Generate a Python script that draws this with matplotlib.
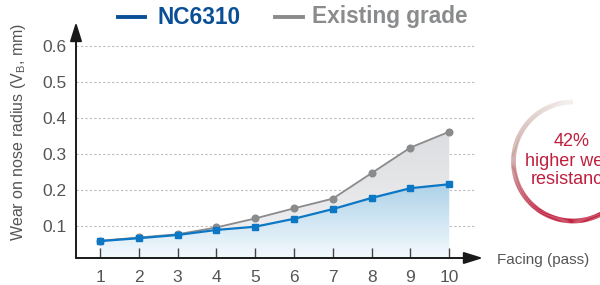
#!/usr/bin/env python3
# -*- coding: utf-8 -*-
"""Wear on nose radius vs. facing passes: NC6310 against the existing grade."""

import numpy as np
import matplotlib
matplotlib.use("Agg")
import matplotlib.pyplot as plt
from matplotlib.patches import Polygon
from matplotlib.collections import LineCollection
from matplotlib.colors import LinearSegmentedColormap, to_rgb
from matplotlib.lines import Line2D

# ---- data ----
passes = [1, 2, 3, 4, 5, 6, 7, 8, 9, 10]
nc6310 = [0.058, 0.066, 0.075, 0.089, 0.098, 0.120, 0.147, 0.178, 0.205, 0.216]
existing = [0.059, 0.068, 0.077, 0.096, 0.121, 0.149, 0.176, 0.247, 0.318, 0.362]
y_ticks = [0.1, 0.2, 0.3, 0.4, 0.5, 0.6]
series_names = ["NC6310", "Existing grade"]
badge_lines = ["42%", "higher wear", "resistance"]

BLUE = "#0B77C5"
BLUE_DARK = "#0A4F96"
GREY = "#8A8B8D"
CRIMSON = "#BF1F3D"
TXT = "#555555"

plt.rcParams.update({
    "font.family": ["Liberation Sans", "DejaVu Sans"],
    "mathtext.default": "regular",
})

W, H = 600, 285
fig = plt.figure(figsize=(W / 100, H / 100), dpi=100)
ax = fig.add_axes([76 / W, 1 - 258 / H, 400 / W, (258 - 22) / H])

x0, x1 = 0.381, 10.69
y0, y1 = 0.011, 0.667
ax.set_xlim(x0, x1)
ax.set_ylim(y0, y1)


def gradient_fill(ax, verts, top_color, bottom_color, ytop, ybot):
    cmap = LinearSegmentedColormap.from_list("g", [bottom_color, top_color])
    grad = np.linspace(0, 1, 256).reshape(-1, 1)
    im = ax.imshow(grad, cmap=cmap, origin="lower", aspect="auto",
                   extent=[passes[0], passes[-1], ybot, ytop], zorder=1)
    poly = Polygon(verts, closed=True, facecolor="none", edgecolor="none")
    ax.add_patch(poly)
    im.set_clip_path(poly)


xs = np.array(passes, dtype=float)
# grey band between the two curves
band = list(zip(xs, existing)) + list(zip(xs[::-1], nc6310[::-1]))
gradient_fill(ax, band, "#DCDDE0", "#F3F3F4", max(existing), y0)
# blue area under NC6310
area = list(zip(xs, nc6310)) + [(xs[-1], y0), (xs[0], y0)]
gradient_fill(ax, area, "#AED2E8", "#F4FAFE", max(nc6310), y0)
ax.set_xlim(x0, x1)
ax.set_ylim(y0, y1)

ax.plot(xs, existing, color=GREY, lw=1.3, marker="o", ms=4.8, zorder=3)
ax.plot(xs, nc6310, color=BLUE, lw=1.6, marker="s", ms=5, zorder=4)

# dotted grid
for yv in y_ticks:
    ax.axhline(yv, color="#BDBDBD", lw=0.8, ls=(0, (2, 2)), zorder=0)

for s in ax.spines.values():
    s.set_visible(False)
ax.set_xticks(passes)
ax.set_yticks(y_ticks)
ax.set_yticklabels([f"{v:.1f}" for v in y_ticks])
ax.tick_params(axis="x", direction="in", length=7, width=1.0, color="#444444",
               pad=9, labelsize=12.5, labelcolor=TXT)
ax.tick_params(axis="y", length=0, pad=7, labelsize=12.5, labelcolor=TXT)
ax.set_facecolor("none")

# axis arrows
arrow = dict(arrowstyle="-|>,head_length=1.15,head_width=0.36", color="#1A1A1A",
             lw=1.4, shrinkA=0, shrinkB=0)
ax.annotate("", xy=(0, 1.0), xytext=(0, 0), xycoords="axes fraction",
            arrowprops=arrow, annotation_clip=False, zorder=6)
ax.annotate("", xy=(407 / 400, 0), xytext=(0, 0), xycoords="axes fraction",
            arrowprops=arrow, annotation_clip=False, zorder=6)

fig.text(19 / W, 1 - 131.5 / H, "Wear on nose radius (V$_{B}$, mm)",
         rotation=90, ha="center", va="center", fontsize=11.5, color=TXT)
fig.text(497 / W, 1 - 260 / H, "Facing (pass)", ha="left", va="center",
         fontsize=11, color=TXT)

# legend across the top
fig.add_artist(Line2D([118 / W, 145 / W], [1 - 17 / H] * 2, color=BLUE_DARK,
                      lw=2.8, transform=fig.transFigure))
fig.text(158 / W, 1 - 17 / H, series_names[0], ha="left", va="center",
         fontsize=16.3, fontweight="bold", color=BLUE_DARK)
fig.add_artist(Line2D([275 / W, 303 / W], [1 - 17 / H] * 2, color=GREY,
                      lw=2.8, transform=fig.transFigure))
fig.text(312 / W, 1 - 17 / H, series_names[1], ha="left", va="center",
         fontsize=16.3, fontweight="bold", color=GREY)

# badge with gradient ring on the right
over = fig.add_axes([0, 0, 1, 1], zorder=10)
over.set_xlim(0, W)
over.set_ylim(H, 0)
over.axis("off")
cx, cy, r = 573, 161.5, 59.5
theta = np.linspace(np.pi / 2, 2.2 * np.pi, 300)
px = cx + r * np.cos(theta)
py = cy - r * np.sin(theta)
pts = np.column_stack([px, py]).reshape(-1, 1, 2)
segs = np.concatenate([pts[:-1], pts[1:]], axis=1)
c_top = np.array(to_rgb("#F3F0EF"))
c_mid = np.array(to_rgb("#C9A6A0"))
c_bot = np.array(to_rgb(CRIMSON))
cols = []
for t in theta[:-1]:
    f = (t - np.pi / 2) / np.pi
    if f < 0.45:
        c = c_top + (c_mid - c_top) * (f / 0.45)
    elif f < 0.8:
        c = c_mid + (c_bot - c_mid) * ((f - 0.45) / 0.35)
    else:
        c = c_bot
    cols.append(c)
over.add_collection(LineCollection(segs, colors=cols, linewidths=3.4,
                                   capstyle="butt"))
for line, yy in zip(badge_lines, [142, 162, 179.5]):
    over.text(cx - 1, yy, line, ha="center", va="center", fontsize=13,
              color=CRIMSON)

fig.savefig("out.png", dpi=100, facecolor="white")
